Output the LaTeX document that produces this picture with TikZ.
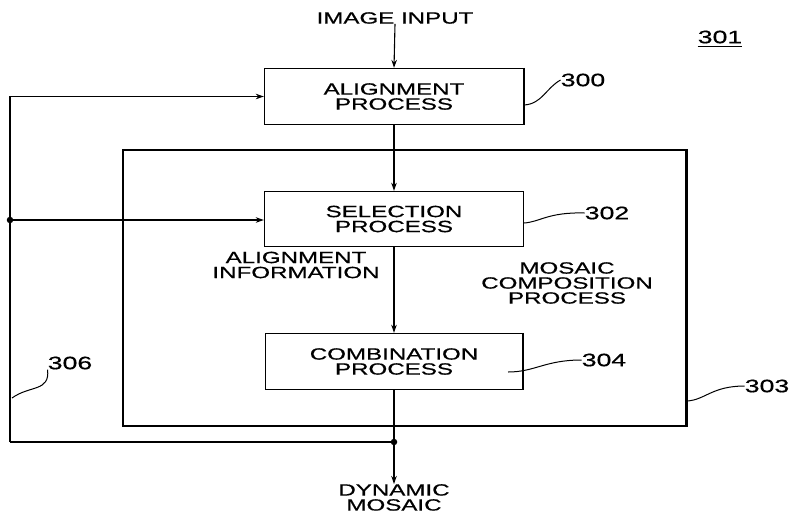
\documentclass[tikz,border=0pt]{standalone}
\usepackage{fontspec}
\newfontfamily\pf[FakeStretch=1.48,FakeBold=0.6]{Liberation Sans}
\usetikzlibrary{arrows.meta}
\begin{document}
\begin{tikzpicture}[x=1pt,y=-1pt,
  lbl/.style={font=\pf\fontsize{16.3}{15}\selectfont, align=center, inner sep=0pt},
  num/.style={font=\pf\fontsize{18}{18}\selectfont, inner sep=0pt},
  box/.style={draw, line width=1.4pt, minimum width=259pt, minimum height=56pt, inner sep=0pt,
    font=\pf\fontsize{16.3}{15}\selectfont, align=center},
  arr/.style={line width=1.1pt, -{Stealth[length=8pt,width=5.5pt]}},
  ln/.style={line width=1.1pt},
  lead/.style={line width=1pt},
  dot/.style={circle, fill, inner sep=0pt, minimum size=6.5pt}]
\useasboundingbox (0,0) rectangle (791,514);
% boxes
\node[box] (mos) at (404.5,288) [minimum width=563pt, minimum height=276pt] {};
\draw[line width=2.6pt] (mos.north east) -- (mos.south east);
\node[box] (align) at (394,96.5) {ALIGNMENT\\PROCESS};
\node[box] (sel) at (394,219) [minimum height=55pt] {SELECTION\\PROCESS};
\node[box] (comb) at (394,361.5) [minimum width=257pt] {COMBINATION\\PROCESS};
\draw[line width=2.2pt] (align.north east) -- (align.south east);
\draw[line width=2.2pt] (comb.north east) -- (comb.south east);
% texts
\node[lbl] (in) at (395,18) {IMAGE INPUT};
\node[lbl, anchor=north] (out) at (394,484) {DYNAMIC\\MOSAIC};
\node[lbl] (ainfo) at (296,265) {ALIGNMENT\\INFORMATION};
\node[lbl] (mlab) at (567,283) {MOSAIC\\COMPOSITION\\PROCESS};
\node[num] (n301) at (720,37) {301};
\draw[line width=1.3pt] ([yshift=-3pt]n301.south west) -- ([yshift=-3pt]n301.south east);
\node[num] (n300) at (583,80) {300};
\node[num] (n302) at (607,213) {302};
\node[num] (n304) at (604,360) {304};
\node[num] (n303) at (767,386) {303};
\node[num] (n306) at (70,363) {306};
% coordinates
\coordinate (L2) at (10,220);
\coordinate (L3) at (10,442);
\coordinate (B) at (394,442);
% connectors
\draw[arr] (in.south) -- (align.north);
\draw[arr] (align.south) -- (sel.north);
\draw[arr] (sel.south) -- (comb.north);
\draw[arr] (comb.south) -- (out.north);
\draw[ln] (B) -- (L3);
\draw[arr] (L3) |- (align.west);
\draw[arr] (L2) -- (sel.west |- L2);
\node[dot] (d1) at (L2) {};
\node[dot] (d2) at (B) {};
% leaders
\draw[lead] (524,105) .. controls (542,104) and (546,88) .. (n300.west);
\draw[lead] (524,223) .. controls (540,222) and (548,212) .. (n302.west);
\draw[lead] (508,372) .. controls (535,372) and (545,360) .. (n304.west);
\draw[lead] (687,401) .. controls (705,400) and (712,386) .. (n303.west);
\draw[lead] (12,398) .. controls (30,385) and (50,392) .. (n306.south west);
\end{tikzpicture}
\end{document}
